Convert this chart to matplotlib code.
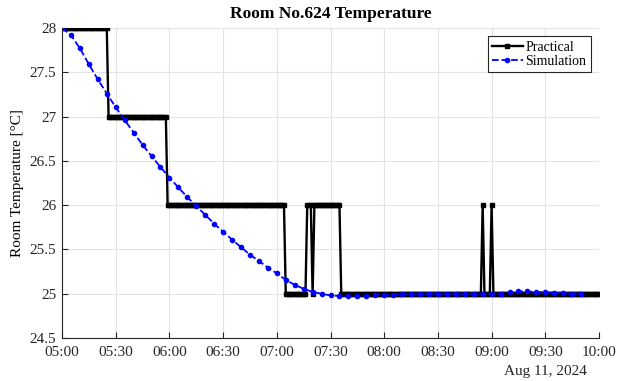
import numpy as np
import pandas as pd
import matplotlib
matplotlib.use("Agg")
import matplotlib.pyplot as plt
import matplotlib.dates as mdates

plt.rcParams['font.family'] = ['Liberation Serif', 'DejaVu Serif']

day = pd.Timestamp("2024-08-11 05:00")

# Practical: levels, each held from the given minute (after 05:00)
prac_change_min = [0, 26, 59, 125, 137, 140, 141, 156, 235, 236, 240, 241]
prac_level = [28, 27, 26, 25, 26, 25, 26, 25, 26, 25, 26, 25]
prac_end_min = 300

# Simulation: one point every 5 minutes from 05:00 to 09:50
sim_min = list(range(0, 295, 5))
sim_temp = [28.00, 27.92, 27.77, 27.59, 27.42, 27.26, 27.105, 26.96, 26.82, 26.68,
            26.555, 26.43, 26.31, 26.20, 26.09, 25.99, 25.89, 25.79, 25.70, 25.61,
            25.525, 25.44, 25.37, 25.295, 25.23, 25.155, 25.10, 25.055, 25.02, 25.00,
            24.98, 24.975, 24.97, 24.974, 24.977, 24.985, 24.99, 24.99, 24.995, 25.0,
            25.0, 25.0, 25.0, 25.0, 25.0, 25.0, 25.0, 25.0, 25.0, 25.0,
            25.015, 25.025, 25.025, 25.02, 25.015, 25.01, 25.005, 25.0, 25.0]

# expand the practical steps to one sample per minute
bounds = prac_change_min + [prac_end_min + 1]
prac_vals = np.repeat(prac_level, np.diff(bounds))
prac_time = day + pd.to_timedelta(np.arange(len(prac_vals)), unit="min")
sim_time = day + pd.to_timedelta(sim_min, unit="min")

fig = plt.figure(figsize=(6.19, 3.81), dpi=100)
ax = fig.add_axes([0.1002, 0.1129, 0.8675, 0.8136])

ax.plot(prac_time, prac_vals, color='black', linewidth=1.7, marker='s',
        markersize=2.3, label='Practical')
ax.plot(sim_time, sim_temp, color='#0000ff', linestyle='--', linewidth=1.3,
        marker='o', markersize=3.0, label='Simulation')

ax.set_xlim(day, day + pd.Timedelta(minutes=300))
ax.set_ylim(24.5, 28)
ax.set_yticks([24.5, 25, 25.5, 26, 26.5, 27, 27.5, 28])
ax.set_yticklabels(['24.5', '25', '25.5', '26', '26.5', '27', '27.5', '28'])
ax.xaxis.set_major_locator(mdates.MinuteLocator(byminute=[0, 30]))
ax.xaxis.set_major_formatter(mdates.DateFormatter('%H:%M'))

ax.grid(True, color='#e3e3e3', linewidth=0.8)
ax.set_axisbelow(True)
for s in ['top', 'right']:
    ax.spines[s].set_visible(False)
for s in ['left', 'bottom']:
    ax.spines[s].set_color('#262626')
    ax.spines[s].set_linewidth(0.8)
ax.tick_params(direction='in', length=4, width=0.8, colors='#262626',
               labelsize=11, labelcolor='#262626')
ax.tick_params(axis='x', pad=5.5)
ax.tick_params(axis='y', pad=4)

ax.set_title('Room No.624 Temperature', fontsize=12.5, fontweight='bold', pad=7)
ax.set_ylabel('Room Temperature [°C]', fontsize=11, labelpad=4)
fig.text(587 / 619, 1 - 371 / 381, 'Aug 11, 2024', ha='right', va='center',
         fontsize=11, color='#262626')

leg = ax.legend(loc='upper right', fontsize=10, handlelength=2.2, handletextpad=0.2,
                borderpad=0.3, labelspacing=0.1, fancybox=False, framealpha=1,
                edgecolor='#262626', borderaxespad=0.6)
leg.get_frame().set_linewidth(0.8)

fig.savefig('out.png', dpi=100)
